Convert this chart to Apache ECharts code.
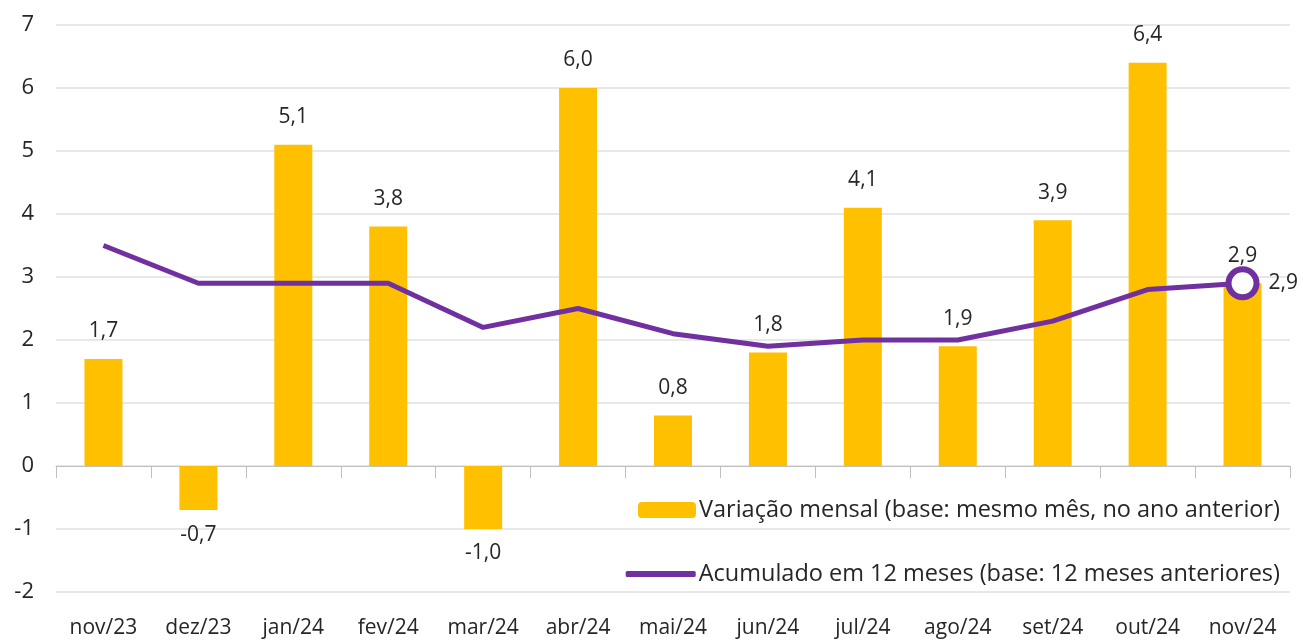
<!DOCTYPE html>
<html><head><meta charset="utf-8">
<script src="https://cdn.jsdelivr.net/npm/echarts@6/dist/echarts.min.js"></script>
<style>html,body{margin:0;padding:0;background:#fff}#c{width:1303px;height:640px}</style>
</head><body><div id="c"></div>
<script>
const categories = ['nov/23','dez/23','jan/24','fev/24','mar/24','abr/24','mai/24','jun/24','jul/24','ago/24','set/24','out/24','nov/24'];
const mensal = [1.7,-0.7,5.1,3.8,-1.0,6.0,0.8,1.8,4.1,1.9,3.9,6.4,2.9];
const acumulado = [3.5,2.9,2.9,2.9,2.2,2.5,2.1,1.9,2.0,2.0,2.3,2.8,2.9];
const yTicks = [-2,-1,0,1,2,3,4,5,6,7];
const nameMensal = 'Variação mensal (base: mesmo mês, no ano anterior)';
const nameAcum = 'Acumulado em 12 meses (base: 12 meses anteriores)';

const FONT = '"Open Sans", "Noto Sans", sans-serif';
const TXT = '#262626';
const fmt = v => v.toFixed(1).replace('.', ',');
const chart = echarts.init(document.getElementById('c'));
const last = acumulado.length - 1;
chart.setOption({
  animation: false,
  textStyle: {fontFamily: FONT},
  grid: {left: 56, right: 13, top: 25, bottom: 48},
  legend: [
    {data: [nameMensal], right: 18, top: 493, itemWidth: 58, itemHeight: 16, itemGap: 4,
     textStyle: {fontSize: 23.5, color: TXT, fontFamily: FONT, padding: [0,0,0,-2]}},
    {data: [{name: nameAcum, icon: 'roundRect'}], right: 18, top: 557, itemWidth: 70, itemHeight: 6,
     textStyle: {fontSize: 23.5, color: TXT, fontFamily: FONT, padding: [0,0,0,-2]}}
  ],
  xAxis: [
    {type: 'category', data: categories, axisLine: {onZero: true, lineStyle: {color: '#bfbfbf', width: 1}},
     axisTick: {show: true, length: 12, lineStyle: {color: '#bfbfbf'}}, axisLabel: {show: false}},
    {type: 'category', data: categories, position: 'bottom', axisLine: {show: false}, axisTick: {show: false},
     axisLabel: {fontSize: 21, color: TXT, margin: 26, fontFamily: FONT}}
  ],
  yAxis: {type: 'value', min: yTicks[0], max: yTicks[yTicks.length-1], interval: 1,
    axisLine: {show: false}, axisTick: {show: false},
    splitLine: {lineStyle: {color: '#e0e0e0', width: 1.5}},
    axisLabel: {fontSize: 22, color: TXT, margin: 22, align: 'right', fontFamily: FONT}},
  series: [
    {name: nameMensal, type: 'bar', barWidth: 38, itemStyle: {color: '#FFC000'},
     data: mensal.map(v => v < 0 ? {value: v, label: {position: 'bottom', distance: 14}} : v),
     label: {show: true, fontSize: 21, color: TXT, fontFamily: FONT, formatter: p => fmt(p.value),
       position: 'top', distance: 17},
     z: 2},
    {name: nameAcum, type: 'line', data: acumulado.map((v,i) => i === last ? {
        value: v, symbol: 'circle', symbolSize: 28,
        itemStyle: {color: '#fff', borderColor: '#7030A0', borderWidth: 6},
        label: {show: true, position: 'right', distance: 9, fontSize: 21, color: TXT, fontFamily: FONT, formatter: p => fmt(p.value)}
      } : v),
     symbol: 'none', lineStyle: {color: '#7030A0', width: 5},
     itemStyle: {color: '#7030A0'}, z: 5}
  ]
});
</script></body></html>
